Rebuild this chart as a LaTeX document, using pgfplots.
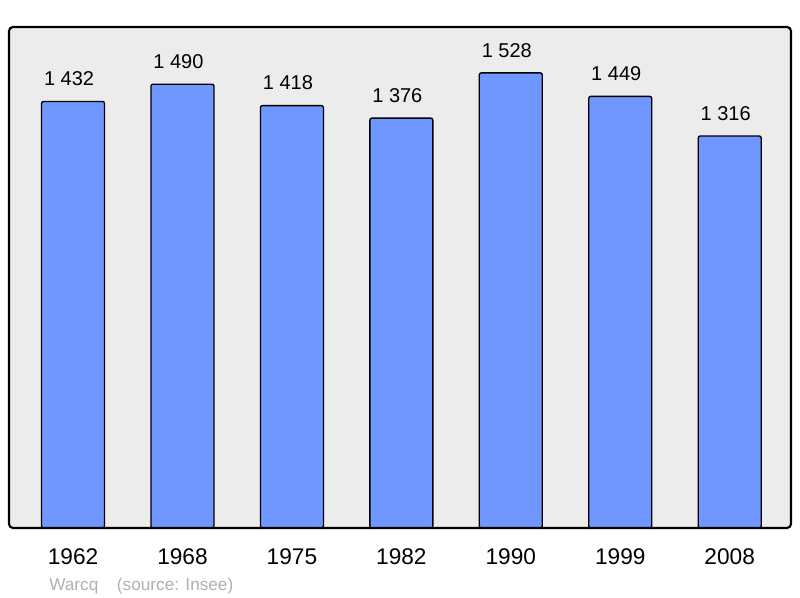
\documentclass[border=0pt]{standalone}
\usepackage{fontspec}
\setmainfont{Liberation Sans}
\usepackage{pgfplots}
\pgfplotsset{compat=1.18}
\definecolor{barblue}{HTML}{7097FF}
\definecolor{panelgray}{HTML}{ECECEC}
\definecolor{srcgray}{HTML}{B0B0B0}

\begin{document}
\begin{tikzpicture}
\begin{axis}[
    scale only axis,
    width=586.5pt,
    height=375.75pt,
    ymin=0, ymax=1682,
    xmin=-0.585, xmax=6.56,
    ybar,
    bar width=47.25pt,
    xtick=data,
    xticklabels={1962,1968,1975,1982,1990,1999,2008},
    ytick=\empty,
    major tick length=0pt,
    axis line style={draw=none},
    axis background/.style={fill=panelgray, rounded corners=3pt},
    xticklabel style={font=\fontsize{17}{20}\selectfont, anchor=north, inner sep=0pt, yshift=-15pt},
    clip=false,
    /pgf/number format/assume math mode=true,
    nodes near coords={\pgfmathprintnumber[1000 sep={\ }]{\pgfplotspointmeta}},
    nodes near coords style={font=\fontsize{15}{18}\selectfont, anchor=south, inner sep=0pt, yshift=11.25pt, xshift=-3pt},
]
\addplot[fill=barblue, draw=black, line width=1pt, rounded corners=1.5pt] coordinates {
    (0,1432) (1,1490) (2,1418) (3,1376) (4,1528) (5,1449) (6,1316)
};
\draw[line width=1.6pt, rounded corners=3pt] (rel axis cs:0,0) rectangle (rel axis cs:1,1);
\node[anchor=base west, inner sep=0pt, text=srcgray, font=\fontsize{12.9}{15}\selectfont]
    at (rel axis cs:0,0) [xshift=30pt, yshift=-47.25pt] {Warcq\hspace{14pt}(source: Insee)};
\end{axis}
\path ([xshift=-6.75pt,yshift=-52.5pt]current axis.south west) rectangle ++(600pt,448.5pt);
\end{tikzpicture}
\end{document}
